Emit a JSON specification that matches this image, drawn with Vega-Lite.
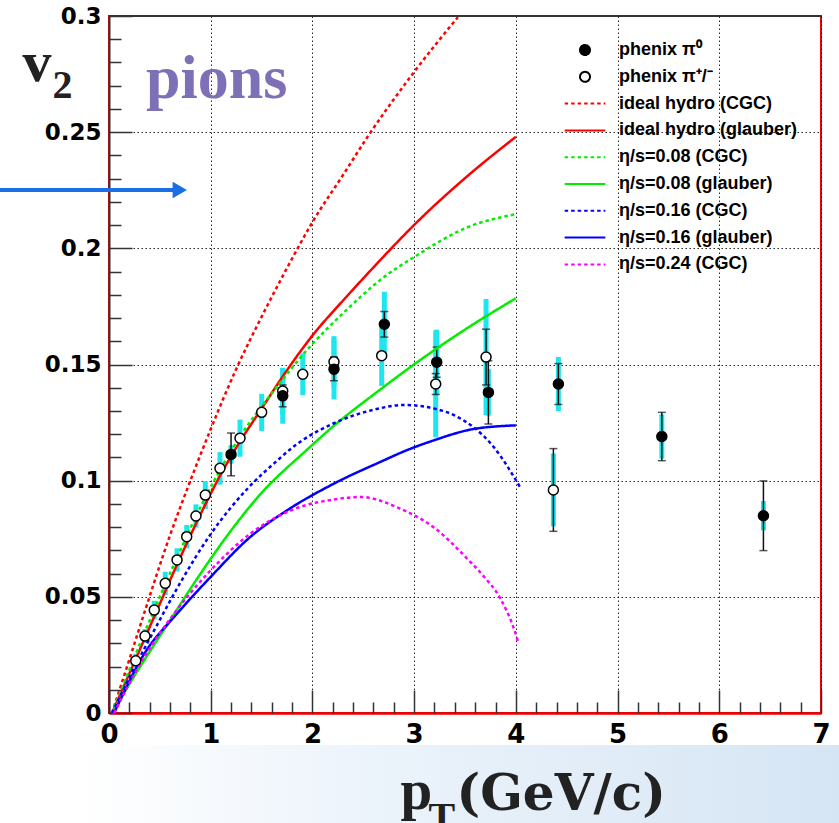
{
  "$schema": "https://vega.github.io/schema/vega-lite/v6.json",
  "width": 712,
  "height": 697,
  "autosize": "none",
  "padding": {"left": 109, "top": 16, "right": 18, "bottom": 110},
  "background": "white",
  "config": {
    "view": {"stroke": "#ee0000", "strokeWidth": 2},
    "legend": {"title": null, "orient": "none", "legendX": 464, "legendY": 22, "labelFont": "Liberation Sans", "labelFontWeight": "bold", "labelFontSize": 18, "labelColor": "#000", "labelOffset": 22, "rowPadding": 5.8, "symbolSize": 484, "symbolStrokeWidth": 2, "labelLimit": 400}
  },
  "datasets": {
    "pts": [
      {"s": "phenix π⁺/⁻", "x": 0.263, "y": 0.0225},
      {"s": "phenix π⁺/⁻", "x": 0.354, "y": 0.0331},
      {"s": "phenix π⁺/⁻", "x": 0.445, "y": 0.0443},
      {"s": "phenix π⁺/⁻", "x": 0.553, "y": 0.0558},
      {"s": "phenix π⁺/⁻", "x": 0.669, "y": 0.0659},
      {"s": "phenix π⁺/⁻", "x": 0.764, "y": 0.0759},
      {"s": "phenix π⁺/⁻", "x": 0.855, "y": 0.0848},
      {"s": "phenix π⁺/⁻", "x": 0.947, "y": 0.0938},
      {"s": "phenix π⁺/⁻", "x": 1.091, "y": 0.1053},
      {"s": "phenix π⁺/⁻", "x": 1.288, "y": 0.1183},
      {"s": "phenix π⁺/⁻", "x": 1.501, "y": 0.1294},
      {"s": "phenix π⁺/⁻", "x": 1.708, "y": 0.1386},
      {"s": "phenix π⁺/⁻", "x": 1.905, "y": 0.1458},
      {"s": "phenix π⁺/⁻", "x": 2.212, "y": 0.1512},
      {"s": "phenix π⁺/⁻", "x": 2.681, "y": 0.1538},
      {"s": "phenix π⁺/⁻", "x": 3.212, "y": 0.1416},
      {"s": "phenix π⁺/⁻", "x": 3.707, "y": 0.1532},
      {"s": "phenix π⁺/⁻", "x": 4.369, "y": 0.096},
      {"s": "phenix π⁰", "x": 1.2, "y": 0.1113},
      {"s": "phenix π⁰", "x": 1.708, "y": 0.1365},
      {"s": "phenix π⁰", "x": 2.212, "y": 0.148},
      {"s": "phenix π⁰", "x": 2.707, "y": 0.1673},
      {"s": "phenix π⁰", "x": 3.222, "y": 0.151},
      {"s": "phenix π⁰", "x": 3.73, "y": 0.138},
      {"s": "phenix π⁰", "x": 4.418, "y": 0.1416},
      {"s": "phenix π⁰", "x": 5.435, "y": 0.119},
      {"s": "phenix π⁰", "x": 6.434, "y": 0.0849}
    ],
    "sys": [
      {"x": 0.263, "lo": 0.0195, "hi": 0.0255},
      {"x": 0.354, "lo": 0.0301, "hi": 0.0361},
      {"x": 0.445, "lo": 0.0403, "hi": 0.0483},
      {"x": 0.553, "lo": 0.0508, "hi": 0.0608},
      {"x": 0.669, "lo": 0.0609, "hi": 0.0709},
      {"x": 0.764, "lo": 0.0709, "hi": 0.0809},
      {"x": 0.855, "lo": 0.0798, "hi": 0.0898},
      {"x": 0.947, "lo": 0.0878, "hi": 0.0998},
      {"x": 1.091, "lo": 0.0983, "hi": 0.1123},
      {"x": 1.288, "lo": 0.1103, "hi": 0.1263},
      {"x": 1.501, "lo": 0.1214, "hi": 0.1374},
      {"x": 1.708, "lo": 0.1286, "hi": 0.1486},
      {"x": 1.905, "lo": 0.1368, "hi": 0.1548},
      {"x": 2.212, "lo": 0.1402, "hi": 0.1622},
      {"x": 2.681, "lo": 0.1408, "hi": 0.1668},
      {"x": 3.212, "lo": 0.1186, "hi": 0.1646},
      {"x": 3.707, "lo": 0.1282, "hi": 0.1782},
      {"x": 4.369, "lo": 0.0803, "hi": 0.1117},
      {"x": 1.2, "lo": 0.1073, "hi": 0.1153},
      {"x": 1.708, "lo": 0.1245, "hi": 0.1485},
      {"x": 2.212, "lo": 0.135, "hi": 0.161},
      {"x": 2.707, "lo": 0.1533, "hi": 0.1813},
      {"x": 3.222, "lo": 0.137, "hi": 0.165},
      {"x": 3.73, "lo": 0.128, "hi": 0.148},
      {"x": 4.418, "lo": 0.13, "hi": 0.1532},
      {"x": 5.435, "lo": 0.1095, "hi": 0.1285},
      {"x": 6.434, "lo": 0.0786, "hi": 0.0912}
    ],
    "stat": [
      {"x": 2.212, "lo": 0.1492, "hi": 0.1532},
      {"x": 3.212, "lo": 0.1371, "hi": 0.1461},
      {"x": 3.707, "lo": 0.1412, "hi": 0.1652},
      {"x": 4.369, "lo": 0.0782, "hi": 0.1138},
      {"x": 1.2, "lo": 0.1021, "hi": 0.1205},
      {"x": 1.708, "lo": 0.1318, "hi": 0.1412},
      {"x": 2.212, "lo": 0.143, "hi": 0.153},
      {"x": 2.707, "lo": 0.1618, "hi": 0.1728},
      {"x": 3.222, "lo": 0.1445, "hi": 0.1575},
      {"x": 3.73, "lo": 0.1244, "hi": 0.1516},
      {"x": 4.418, "lo": 0.1328, "hi": 0.1504},
      {"x": 5.435, "lo": 0.1086, "hi": 0.1294},
      {"x": 6.434, "lo": 0.0699, "hi": 0.0999}
    ],
    "curves": [
      {"s": "ideal hydro (CGC)", "x": 0.03, "y": 0},
      {"s": "ideal hydro (CGC)", "x": 0.2, "y": 0.023},
      {"s": "ideal hydro (CGC)", "x": 0.35, "y": 0.0435},
      {"s": "ideal hydro (CGC)", "x": 0.6, "y": 0.0765},
      {"s": "ideal hydro (CGC)", "x": 0.8, "y": 0.1},
      {"s": "ideal hydro (CGC)", "x": 1.0, "y": 0.1222},
      {"s": "ideal hydro (CGC)", "x": 1.25, "y": 0.148},
      {"s": "ideal hydro (CGC)", "x": 1.5, "y": 0.1705},
      {"s": "ideal hydro (CGC)", "x": 1.75, "y": 0.1915},
      {"s": "ideal hydro (CGC)", "x": 2.01, "y": 0.212},
      {"s": "ideal hydro (CGC)", "x": 2.3, "y": 0.2315},
      {"s": "ideal hydro (CGC)", "x": 2.55, "y": 0.2485},
      {"s": "ideal hydro (CGC)", "x": 3.01, "y": 0.2765},
      {"s": "ideal hydro (CGC)", "x": 3.43, "y": 0.2995},
      {"s": "ideal hydro (glauber)", "x": 0.03, "y": 0},
      {"s": "ideal hydro (glauber)", "x": 0.25, "y": 0.022},
      {"s": "ideal hydro (glauber)", "x": 0.45, "y": 0.042},
      {"s": "ideal hydro (glauber)", "x": 0.67, "y": 0.064},
      {"s": "ideal hydro (glauber)", "x": 0.95, "y": 0.09},
      {"s": "ideal hydro (glauber)", "x": 1.09, "y": 0.102},
      {"s": "ideal hydro (glauber)", "x": 1.29, "y": 0.117},
      {"s": "ideal hydro (glauber)", "x": 1.5, "y": 0.131},
      {"s": "ideal hydro (glauber)", "x": 1.71, "y": 0.145},
      {"s": "ideal hydro (glauber)", "x": 2.01, "y": 0.163},
      {"s": "ideal hydro (glauber)", "x": 2.3, "y": 0.1775},
      {"s": "ideal hydro (glauber)", "x": 2.53, "y": 0.1885},
      {"s": "ideal hydro (glauber)", "x": 2.75, "y": 0.1988},
      {"s": "ideal hydro (glauber)", "x": 3.01, "y": 0.2105},
      {"s": "ideal hydro (glauber)", "x": 3.5, "y": 0.2302},
      {"s": "ideal hydro (glauber)", "x": 4.0, "y": 0.248},
      {"s": "η/s=0.08 (CGC)", "x": 0.03, "y": 0},
      {"s": "η/s=0.08 (CGC)", "x": 0.25, "y": 0.024},
      {"s": "η/s=0.08 (CGC)", "x": 0.45, "y": 0.045},
      {"s": "η/s=0.08 (CGC)", "x": 0.67, "y": 0.067},
      {"s": "η/s=0.08 (CGC)", "x": 0.95, "y": 0.093},
      {"s": "η/s=0.08 (CGC)", "x": 1.29, "y": 0.119},
      {"s": "η/s=0.08 (CGC)", "x": 1.665, "y": 0.1412},
      {"s": "η/s=0.08 (CGC)", "x": 1.976, "y": 0.1577},
      {"s": "η/s=0.08 (CGC)", "x": 2.3, "y": 0.172},
      {"s": "η/s=0.08 (CGC)", "x": 2.7, "y": 0.1875},
      {"s": "η/s=0.08 (CGC)", "x": 3.02, "y": 0.1968},
      {"s": "η/s=0.08 (CGC)", "x": 3.52, "y": 0.209},
      {"s": "η/s=0.08 (CGC)", "x": 4.0, "y": 0.2147},
      {"s": "η/s=0.08 (glauber)", "x": 0.03, "y": 0},
      {"s": "η/s=0.08 (glauber)", "x": 0.25, "y": 0.016},
      {"s": "η/s=0.08 (glauber)", "x": 0.58, "y": 0.0385},
      {"s": "η/s=0.08 (glauber)", "x": 0.9, "y": 0.06},
      {"s": "η/s=0.08 (glauber)", "x": 1.16, "y": 0.0762},
      {"s": "η/s=0.08 (glauber)", "x": 1.485, "y": 0.094},
      {"s": "η/s=0.08 (glauber)", "x": 1.944, "y": 0.1132},
      {"s": "η/s=0.08 (glauber)", "x": 2.24, "y": 0.1247},
      {"s": "η/s=0.08 (glauber)", "x": 2.6, "y": 0.137},
      {"s": "η/s=0.08 (glauber)", "x": 3.03, "y": 0.151},
      {"s": "η/s=0.08 (glauber)", "x": 3.52, "y": 0.1656},
      {"s": "η/s=0.08 (glauber)", "x": 4.0, "y": 0.1785},
      {"s": "η/s=0.16 (CGC)", "x": 0.03, "y": 0},
      {"s": "η/s=0.16 (CGC)", "x": 0.22, "y": 0.017},
      {"s": "η/s=0.16 (CGC)", "x": 0.48, "y": 0.0385},
      {"s": "η/s=0.16 (CGC)", "x": 0.7, "y": 0.056},
      {"s": "η/s=0.16 (CGC)", "x": 1.0, "y": 0.077},
      {"s": "η/s=0.16 (CGC)", "x": 1.36, "y": 0.0965},
      {"s": "η/s=0.16 (CGC)", "x": 1.65, "y": 0.1085},
      {"s": "η/s=0.16 (CGC)", "x": 1.81, "y": 0.1145},
      {"s": "η/s=0.16 (CGC)", "x": 2.2, "y": 0.1245},
      {"s": "η/s=0.16 (CGC)", "x": 2.6, "y": 0.1305},
      {"s": "η/s=0.16 (CGC)", "x": 2.9, "y": 0.1326},
      {"s": "η/s=0.16 (CGC)", "x": 3.2, "y": 0.131},
      {"s": "η/s=0.16 (CGC)", "x": 3.42, "y": 0.1276},
      {"s": "η/s=0.16 (CGC)", "x": 3.78, "y": 0.1146},
      {"s": "η/s=0.16 (CGC)", "x": 4.05, "y": 0.0966},
      {"s": "η/s=0.16 (glauber)", "x": 0.05, "y": 0},
      {"s": "η/s=0.16 (glauber)", "x": 0.35, "y": 0.0257},
      {"s": "η/s=0.16 (glauber)", "x": 0.67, "y": 0.0428},
      {"s": "η/s=0.16 (glauber)", "x": 1.0, "y": 0.0586},
      {"s": "η/s=0.16 (glauber)", "x": 1.39, "y": 0.0758},
      {"s": "η/s=0.16 (glauber)", "x": 1.75, "y": 0.0872},
      {"s": "η/s=0.16 (glauber)", "x": 2.21, "y": 0.0987},
      {"s": "η/s=0.16 (glauber)", "x": 2.7, "y": 0.1087},
      {"s": "η/s=0.16 (glauber)", "x": 2.894, "y": 0.1125},
      {"s": "η/s=0.16 (glauber)", "x": 3.19, "y": 0.1173},
      {"s": "η/s=0.16 (glauber)", "x": 3.58, "y": 0.1222},
      {"s": "η/s=0.16 (glauber)", "x": 4.0, "y": 0.1238},
      {"s": "η/s=0.24 (CGC)", "x": 0.05, "y": 0},
      {"s": "η/s=0.24 (CGC)", "x": 0.31, "y": 0.0214},
      {"s": "η/s=0.24 (CGC)", "x": 0.64, "y": 0.0428},
      {"s": "η/s=0.24 (CGC)", "x": 0.97, "y": 0.06},
      {"s": "η/s=0.24 (CGC)", "x": 1.39, "y": 0.0772},
      {"s": "η/s=0.24 (CGC)", "x": 1.88, "y": 0.0887},
      {"s": "η/s=0.24 (CGC)", "x": 2.2, "y": 0.0918},
      {"s": "η/s=0.24 (CGC)", "x": 2.47, "y": 0.093},
      {"s": "η/s=0.24 (CGC)", "x": 2.86, "y": 0.088},
      {"s": "η/s=0.24 (CGC)", "x": 3.19, "y": 0.08},
      {"s": "η/s=0.24 (CGC)", "x": 3.52, "y": 0.0665},
      {"s": "η/s=0.24 (CGC)", "x": 3.68, "y": 0.059},
      {"s": "η/s=0.24 (CGC)", "x": 3.845, "y": 0.0495},
      {"s": "η/s=0.24 (CGC)", "x": 3.975, "y": 0.037},
      {"s": "η/s=0.24 (CGC)", "x": 4.02, "y": 0.031}
    ]
  },
  "resolve": {"axis": {"x": "independent", "y": "independent"}},
  "layer": [
    {
      "data": {"values": [{}]},
      "mark": {"type": "rect", "clip": false, "fill": {"gradient": "linear", "x1": 0, "y1": 0, "x2": 1, "y2": 0, "stops": [{"offset": 0, "color": "#ffffff"}, {"offset": 0.35, "color": "#edf4fb"}, {"offset": 1, "color": "#d5e5f4"}]}},
      "encoding": {
        "x": {"datum": -0.3, "type": "quantitative", "axis": null},
        "x2": {"datum": 7.3},
        "y": {"datum": -0.0138, "type": "quantitative", "axis": null},
        "y2": {"datum": -0.06}
      }
    },
    {
      "data": {"name": "sys"},
      "mark": {"type": "rule", "color": "#1ee6ef", "strokeWidth": 5},
      "encoding": {
        "x": {"field": "x", "type": "quantitative",
          "scale": {"domain": [0, 7], "nice": false, "zero": false},
          "axis": {"orient": "bottom", "values": [0, 1, 2, 3, 4, 5, 6, 7], "labelExpr": "'' + datum.value", "ticks": false,
            "domainColor": "#ee0000", "domainWidth": 2.5, "grid": true, "gridDash": [1.5, 2.5], "gridColor": "#000", "gridOpacity": 0.85,
            "labelFont": "DejaVu Sans", "labelFontWeight": "bold", "labelFontSize": 26, "labelColor": "#000", "labelPadding": 8, "labelFlush": false, "labelOverlap": false, "title": null}},
        "y": {"field": "lo", "type": "quantitative",
          "scale": {"domain": [0, 0.3], "nice": false, "zero": false},
          "axis": {"orient": "left", "values": [0, 0.05, 0.1, 0.15, 0.2, 0.25, 0.3], "labelExpr": "'' + datum.value", "ticks": false,
            "domainColor": "#333", "domainWidth": 2, "grid": true, "gridDash": [1.5, 2.5], "gridColor": "#000", "gridOpacity": 0.85,
            "labelFont": "DejaVu Sans", "labelFontWeight": "bold", "labelFontSize": 23, "labelColor": "#000", "labelPadding": 8, "labelFlush": false, "labelOverlap": false,
            "title": "v", "titleFont": "Liberation Serif", "titleFontWeight": "bold", "titleFontSize": 58, "titleColor": "#222", "titleAngle": 0, "titleAlign": "left", "titleBaseline": "alphabetic", "titleX": -87, "titleY": 64}},
        "y2": {"field": "hi"}
      }
    },
    {
      "data": {"name": "stat"},
      "mark": {"type": "rule", "color": "#111", "strokeWidth": 1.5},
      "encoding": {
        "x": {"field": "x", "type": "quantitative",
          "axis": {"orient": "top", "offset": -697, "values": [0, 1, 2, 3, 4, 5, 6, 7], "tickSize": 23, "tickWidth": 1.5, "tickColor": "#333", "labels": false, "domain": false, "grid": false, "zindex": 1,
            "title": "p", "titleFont": "Liberation Serif", "titleFontWeight": "bold", "titleFontSize": 57, "titleColor": "#222", "titleAlign": "left", "titleBaseline": "alphabetic", "titleX": 291, "titleY": 95}},
        "y": {"field": "lo", "type": "quantitative",
          "axis": {"orient": "right", "offset": -712, "values": [0, 0.05, 0.1, 0.15, 0.2, 0.25, 0.3], "tickSize": 23, "tickWidth": 1.5, "tickColor": "#333", "labels": false, "domain": false, "grid": false,
            "title": "2", "titleFont": "Liberation Serif", "titleFontWeight": "bold", "titleFontSize": 40, "titleColor": "#222", "titleAngle": 0, "titleAlign": "left", "titleBaseline": "alphabetic", "titleX": -57, "titleY": 81}},
        "y2": {"field": "hi"}
      }
    },
    {
      "data": {"name": "stat"},
      "mark": {"type": "tick", "orient": "horizontal", "color": "#111", "thickness": 1.5, "size": 8},
      "encoding": {
        "x": {"field": "x", "type": "quantitative",
          "axis": {"orient": "top", "offset": -697, "values": [0.2, 0.4, 0.6, 0.8, 1.2, 1.4, 1.6, 1.8, 2.2, 2.4, 2.6, 2.8, 3.2, 3.4, 3.6, 3.8, 4.2, 4.4, 4.6, 4.8, 5.2, 5.4, 5.6, 5.8, 6.2, 6.4, 6.6, 6.8],
            "tickSize": 11, "tickWidth": 1.5, "tickColor": "#333", "labels": false, "domain": false, "grid": false, "zindex": 1,
            "title": "T", "titleFont": "Liberation Serif", "titleFontWeight": "bold", "titleFontSize": 40, "titleColor": "#222", "titleAlign": "left", "titleBaseline": "alphabetic", "titleX": 319, "titleY": 116}},
        "y": {"field": "lo", "type": "quantitative",
          "axis": {"orient": "right", "offset": -712, "values": [0.01, 0.02, 0.03, 0.04, 0.06, 0.07, 0.08, 0.09, 0.11, 0.12, 0.13, 0.14, 0.16, 0.17, 0.18, 0.19, 0.21, 0.22, 0.23, 0.24, 0.26, 0.27, 0.28, 0.29],
            "tickSize": 12, "tickWidth": 1.5, "tickColor": "#333", "labels": false, "domain": false, "grid": false, "title": null}}
      }
    },
    {
      "data": {"name": "stat"},
      "mark": {"type": "tick", "orient": "horizontal", "color": "#111", "thickness": 1.5, "size": 8},
      "encoding": {
        "x": {"field": "x", "type": "quantitative",
          "axis": {"orient": "bottom", "ticks": false, "labels": false, "domain": false, "grid": false, "zindex": 1,
            "title": "(GeV/c)", "titleFont": "DejaVu Serif", "titleFontWeight": "bold", "titleFontSize": 50, "titleColor": "#222", "titleAlign": "left", "titleBaseline": "alphabetic", "titleX": 347, "titleY": 96}},
        "y": {"field": "hi", "type": "quantitative", "axis": null}
      }
    },
    {
      "data": {"name": "curves"},
      "mark": {"type": "line", "strokeWidth": 2.5, "interpolate": "monotone"},
      "encoding": {
        "x": {"field": "x", "type": "quantitative", "axis": null},
        "y": {"field": "y", "type": "quantitative", "axis": null},
        "stroke": {"field": "s", "type": "nominal",
          "scale": {"domain": ["phenix π⁰", "phenix π⁺/⁻", "ideal hydro (CGC)", "ideal hydro (glauber)", "η/s=0.08 (CGC)", "η/s=0.08 (glauber)", "η/s=0.16 (CGC)", "η/s=0.16 (glauber)", "η/s=0.24 (CGC)"],
            "range": ["#000000", "#000000", "#ff0000", "#ff0000", "#00ee00", "#00ee00", "#0000ff", "#0000ff", "#ff00ff"]}},
        "strokeDash": {"field": "s", "type": "nominal",
          "scale": {"domain": ["phenix π⁰", "phenix π⁺/⁻", "ideal hydro (CGC)", "ideal hydro (glauber)", "η/s=0.08 (CGC)", "η/s=0.08 (glauber)", "η/s=0.16 (CGC)", "η/s=0.16 (glauber)", "η/s=0.24 (CGC)"],
            "range": [[1, 0], [1, 0], [3.5, 3], [1, 0], [3.5, 3], [1, 0], [3.5, 3], [1, 0], [3.5, 3]]}}
      }
    },
    {
      "data": {"name": "pts"},
      "mark": {"type": "point", "size": 484, "stroke": "#000", "strokeWidth": 1.5, "opacity": 1},
      "encoding": {
        "x": {"field": "x", "type": "quantitative", "axis": null},
        "y": {"field": "y", "type": "quantitative", "axis": null},
        "fill": {"field": "s", "type": "nominal",
          "scale": {"domain": ["phenix π⁰", "phenix π⁺/⁻", "ideal hydro (CGC)", "ideal hydro (glauber)", "η/s=0.08 (CGC)", "η/s=0.08 (glauber)", "η/s=0.16 (CGC)", "η/s=0.16 (glauber)", "η/s=0.24 (CGC)"],
            "range": ["#000000", "#ffffff", "transparent", "transparent", "transparent", "transparent", "transparent", "transparent", "transparent"]}},
        "shape": {"field": "s", "type": "nominal",
          "scale": {"domain": ["phenix π⁰", "phenix π⁺/⁻", "ideal hydro (CGC)", "ideal hydro (glauber)", "η/s=0.08 (CGC)", "η/s=0.08 (glauber)", "η/s=0.16 (CGC)", "η/s=0.16 (glauber)", "η/s=0.24 (CGC)"],
            "range": ["M0.4545,0A0.4545,0.4545,0,1,1,-0.4545,0A0.4545,0.4545,0,1,1,0.4545,0Z", "M0.4545,0A0.4545,0.4545,0,1,1,-0.4545,0A0.4545,0.4545,0,1,1,0.4545,0Z", "M-1.85,0L1.85,0", "M-1.85,0L1.85,0", "M-1.85,0L1.85,0", "M-1.85,0L1.85,0", "M-1.85,0L1.85,0", "M-1.85,0L1.85,0", "M-1.85,0L1.85,0"]}}
      }
    },
    {
      "data": {"values": [{}]},
      "mark": {"type": "rule", "color": "#1a6ee6", "strokeWidth": 4, "clip": false},
      "encoding": {
        "x": {"datum": -1.2, "type": "quantitative", "axis": null},
        "x2": {"datum": 0.64},
        "y": {"datum": 0.2251, "type": "quantitative", "axis": null}
      }
    },
    {
      "data": {"values": [{}]},
      "mark": {"type": "point", "shape": "triangle-right", "size": 272, "filled": true, "color": "#1a6ee6", "opacity": 1, "strokeWidth": 0, "clip": false},
      "encoding": {
        "x": {"datum": 0.696, "type": "quantitative", "axis": null},
        "y": {"datum": 0.2251, "type": "quantitative", "axis": null}
      }
    },
    {
      "data": {"values": [{}]},
      "mark": {"type": "rule", "color": "#333", "strokeWidth": 2},
      "encoding": {
        "x": {"datum": 0, "type": "quantitative", "axis": null},
        "x2": {"datum": 7},
        "y": {"datum": 0.3, "type": "quantitative", "axis": null}
      }
    },
    {
      "data": {"values": [{}]},
      "mark": {"type": "text", "text": "pions", "font": "Liberation Serif", "fontWeight": "bold", "fontSize": 62, "color": "#7d70b7", "align": "left", "baseline": "alphabetic"},
      "encoding": {
        "x": {"datum": 0.364, "type": "quantitative", "axis": null},
        "y": {"datum": 0.2646, "type": "quantitative", "axis": null}
      }
    }
  ]
}
